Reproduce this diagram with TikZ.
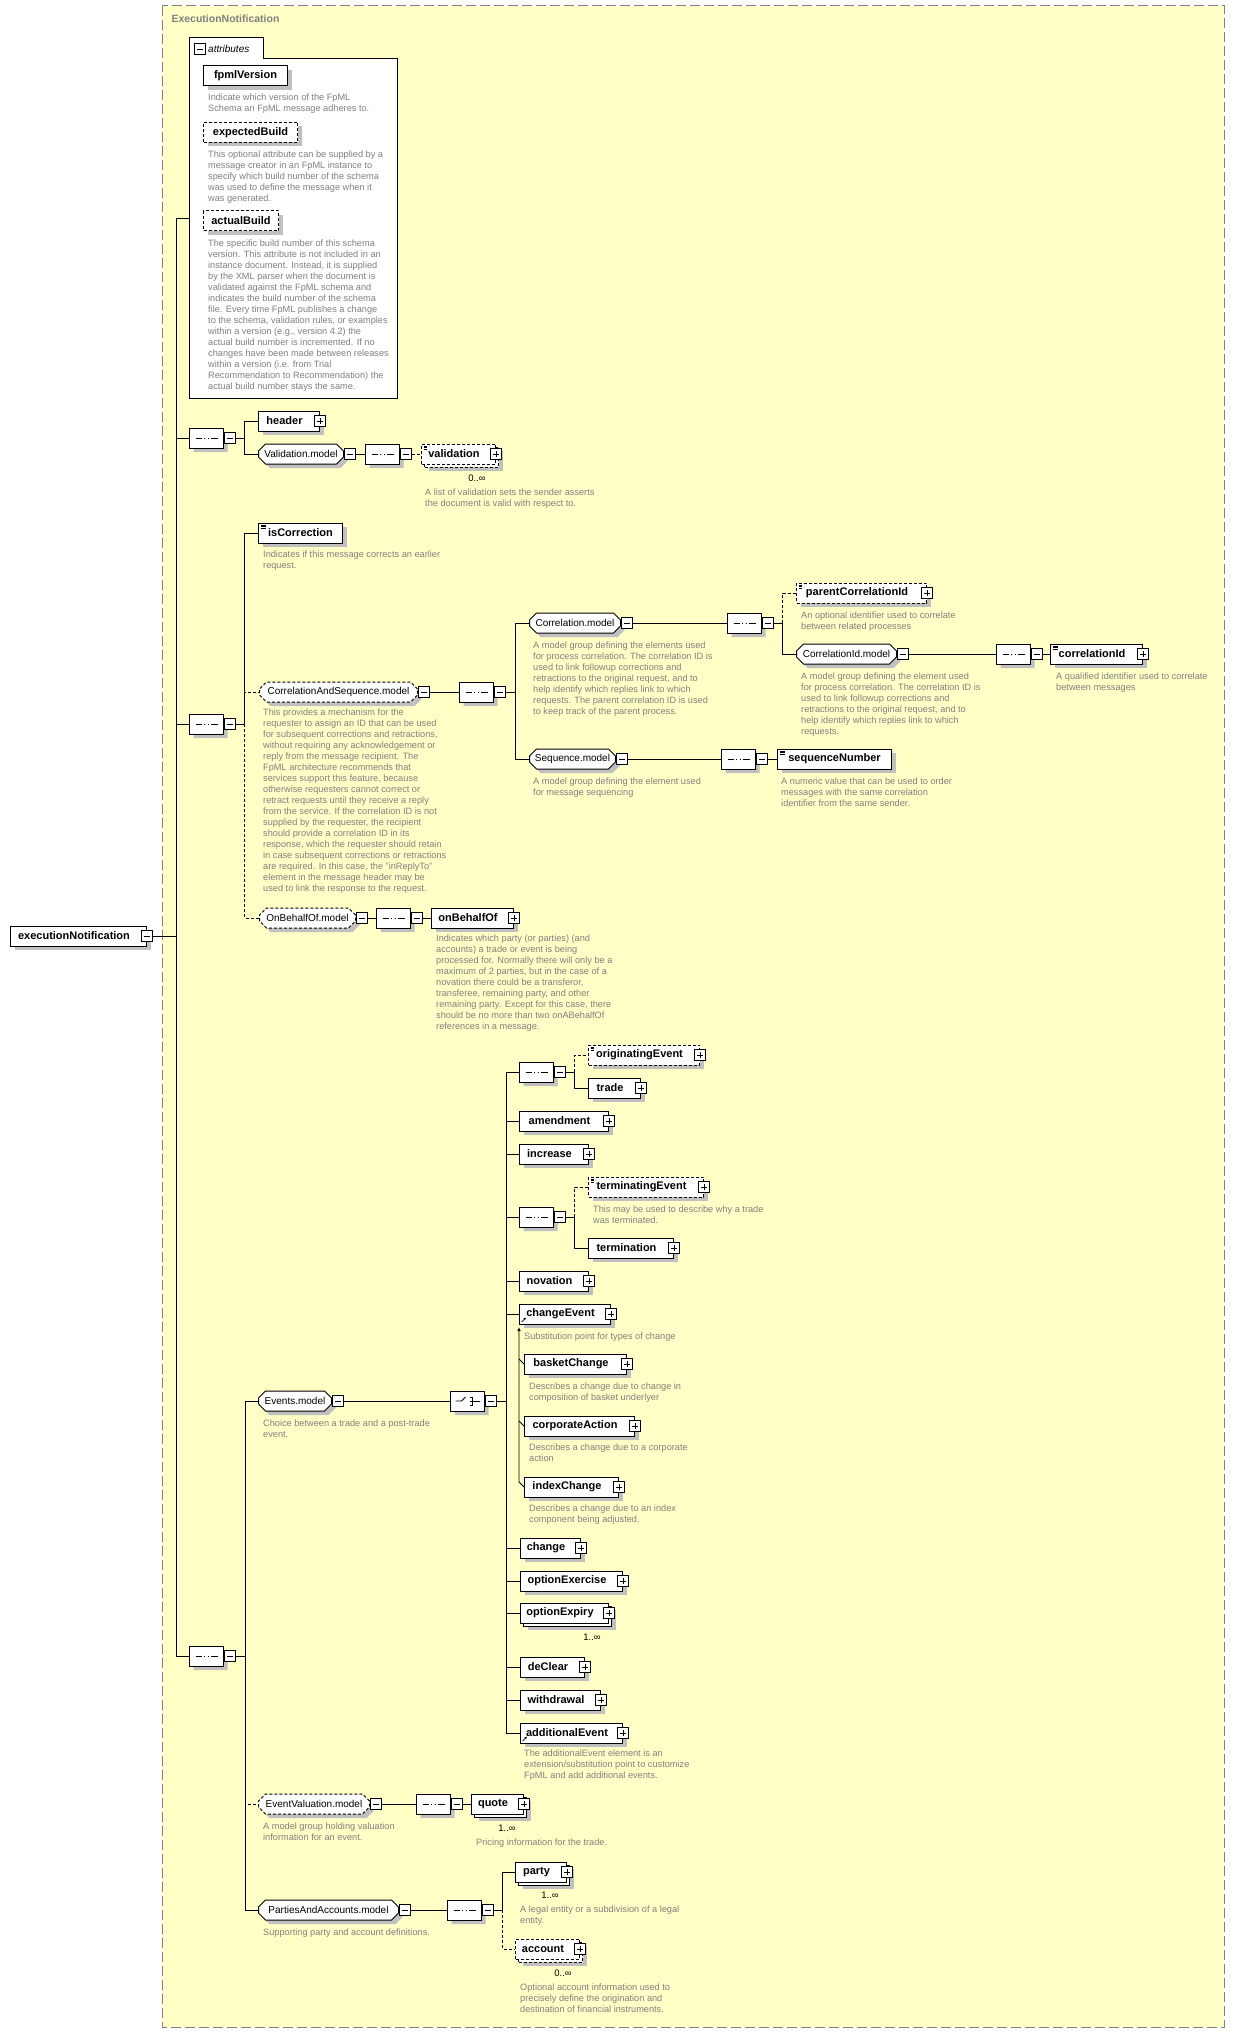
\documentclass[tikz,border=0pt]{standalone}
\usepackage{fontspec}
\setmainfont{Liberation Sans}
\usepackage{tikz}
\usetikzlibrary{arrows.meta,shapes.misc,shadows}

\definecolor{paper}{HTML}{FFFFC6}
\definecolor{notegray}{HTML}{808080}
\definecolor{shadowgray}{HTML}{C0C0C0}

\begin{document}
\begin{tikzpicture}[
    x=1pt, y=-1pt,
    >=Latex,
    every node/.style={font=\fontsize{10}{12}\selectfont},
    sh/.style={drop shadow={shadow xshift=4pt, shadow yshift=-4pt, fill=shadowgray, opacity=1}},
    outerframe/.style={draw=gray, fill=paper, line width=1pt, dash pattern=on 10pt off 4pt},
    elbase/.style={draw, line width=1pt, fill=white, anchor=west, minimum height=20pt, inner xsep=3pt, inner ysep=0pt, font=\fontsize{11}{13}\selectfont\bfseries},
    elem/.style={elbase, sh},
    optl/.style={dash pattern=on 3pt off 2pt},
    withx/.style={execute at end node={\hspace*{9pt}}},
    simple/.style={path picture={\foreach \d in {2pt,3.5pt,5pt} \draw[line width=0.6pt] ([shift={(2pt,-\d)}]path picture bounding box.north west) -- ++(5pt,0pt);}},
    substi/.style={path picture={\draw[-{Latex[length=2.5pt,width=2.5pt]}, line width=0.7pt] ([shift={(2pt,2pt)}]path picture bounding box.south west) -- ++(4.5pt,4.5pt);}},
    grp/.style={chamfered rectangle, chamfered rectangle xsep=3.5pt, chamfered rectangle ysep=3.5pt, draw, line width=1pt, fill=white, anchor=west, minimum height=20pt, inner xsep=1pt, inner ysep=0pt, sh, font=\fontsize{10}{12}\selectfont},
    seq/.style={chamfered rectangle, chamfered rectangle xsep=5pt, chamfered rectangle ysep=5pt, draw, line width=1pt, fill=white, anchor=west, minimum width=34pt, minimum height=20pt, inner sep=0pt, sh,
        path picture={
            \draw[line width=0.9pt] ([xshift=6pt]path picture bounding box.west) -- ([xshift=-6pt]path picture bounding box.east);
            \foreach \dx in {-3.3pt,0pt,3.3pt} \fill ([xshift=\dx]path picture bounding box.center) +(-1.2pt,-1.4pt) rectangle +(1.2pt,1.4pt);}},
    choice/.style={chamfered rectangle, chamfered rectangle xsep=5pt, chamfered rectangle ysep=5pt, draw, line width=1pt, fill=white, anchor=west, minimum width=34pt, minimum height=20pt, inner sep=0pt, sh,
        path picture={
            \draw[line width=0.8pt] ([xshift=-12pt]path picture bounding box.center) -- +(6pt,0pt) -- +(10pt,4pt);
            \foreach \dy in {-4pt,0pt,4pt} \fill ([yshift=\dy]path picture bounding box.center) +(-1pt,-1pt) rectangle +(1pt,1pt);
            \draw[line width=0.8pt] ([shift={(2pt,4pt)}]path picture bounding box.center) -- +(3pt,0pt) -- +(3pt,-8pt) -- +(0pt,-8pt);
            \draw[line width=0.8pt] ([xshift=2pt]path picture bounding box.center) -- +(10pt,0pt);}},
    colbox/.style={draw, line width=0.9pt, fill=white, minimum size=11pt, inner sep=0pt,
        path picture={\draw[line width=0.8pt] ([xshift=2.5pt]path picture bounding box.west) -- ([xshift=-2.5pt]path picture bounding box.east);}},
    expbox/.style={draw, line width=0.9pt, fill=white, minimum size=11pt, inner sep=0pt,
        path picture={\draw[line width=0.8pt] ([xshift=2.5pt]path picture bounding box.west) -- ([xshift=-2.5pt]path picture bounding box.east);
                      \draw[line width=0.8pt] ([yshift=-2.5pt]path picture bounding box.north) -- ([yshift=2.5pt]path picture bounding box.south);}},
    desc/.style={anchor=north west, inner sep=0pt, align=left, text=notegray, font=\fontsize{9.2}{11}\selectfont},
    occ/.style={inner sep=0pt, font=\fontsize{9.5}{11}\selectfont},
    conn/.style={line width=0.9pt}
]

\fill[white] (0,0) rectangle (1235,2033);
\useasboundingbox (0,0) rectangle (1235,2033);
\draw[outerframe] (162,6) rectangle (1224,2027);
\node[anchor=west, text=notegray, font=\fontsize{10.5}{12}\selectfont\bfseries] (ttl) at (168,19) {ExecutionNotification};

% attributes
\node[draw, line width=1pt, fill=white, anchor=north west, minimum width=208pt, minimum height=340pt] (attrs) at (189,58) {};
\node[draw, line width=1pt, fill=white, anchor=south west, minimum width=74pt, minimum height=20pt] (attrtab) at (189,58) {};
\draw[white, line width=1.5pt] ([xshift=1pt]attrtab.south west) -- ([xshift=-1pt]attrtab.south east);
\node[colbox] (attrtab-c) at (200,49) {};
\node[anchor=west, inner sep=0pt, font=\fontsize{10}{12}\selectfont\itshape] (attrlbl) at (208,48.5) {attributes};

\node[elem, minimum width=84pt] (fpmlv) at (203,76) {fpmlVersion};
\node[desc] (fpmlv-d) at (208,93.5) {Indicate which version of the FpML\\Schema an FpML message adheres to.};
\node[elem, optl, minimum width=94pt] (expb) at (203,132.5) {expectedBuild};
\node[desc] (expb-d) at (208,150.5) {This optional attribute can be supplied by a\\message creator in an FpML instance to\\specify which build number of the schema\\was used to define the message when it\\was generated.};
\node[elem, optl, minimum width=75pt] (actb) at (203,221) {actualBuild};
\node[desc] (actb-d) at (208,239.5) {The specific build number of this schema\\version. This attribute is not included in an\\instance document. Instead, it is supplied\\by the XML parser when the document is\\validated against the FpML schema and\\indicates the build number of the schema\\file. Every time FpML publishes a change\\to the schema, validation rules, or examples\\within a version (e.g., version 4.2) the\\actual build number is incremented. If no\\changes have been made between releases\\within a version (i.e. from Trial\\Recommendation to Recommendation) the\\actual build number stays the same.};

% root
\node[elem, minimum width=136pt, withx] (execn) at (10,936) {executionNotification};
\node[colbox] (execn-c) at (execn.east) {};

% header and validation
\node[seq] (s1) at (189,438) {};
\node[colbox, anchor=west] (s1-c) at (s1.east) {};
\node[elem, minimum width=61pt, withx] (header) at (258,421) {header};
\node[expbox] (header-x) at (header.east) {};
\node[grp, minimum width=85pt] (valm) at (258,454) {Validation.model};
\node[colbox, anchor=west] (valm-c) at (valm.east) {};
\node[seq] (s2) at (365,454) {};
\node[colbox, anchor=west] (s2-c) at (s2.east) {};
\node[elem, optl, minimum width=74pt] (valid-bk) at (424,457) {};
\node[elbase, optl, simple, minimum width=74pt, withx] (valid) at (421,454) {validation};
\node[expbox] (valid-x) at (valid.east) {};
\node[occ] (valid-o) at (477,478) {0..∞};
\node[desc] (valid-d) at (425,488.5) {A list of validation sets the sender asserts\\the document is valid with respect to.};

% correction, correlation and on-behalf-of
\node[seq] (s3) at (189,724) {};
\node[colbox, anchor=west] (s3-c) at (s3.east) {};
\node[elem, simple, minimum width=84pt] (iscorr) at (258,533) {isCorrection};
\node[desc] (iscorr-d) at (263,550.5) {Indicates if this message corrects an earlier\\request.};
\node[grp, optl, minimum width=158pt] (corrseq) at (259,692) {CorrelationAndSequence.model};
\node[colbox, anchor=west] (corrseq-c) at (corrseq.east) {};
\node[desc] (corrseq-d) at (263,708.5) {This provides a mechanism for the\\requester to assign an ID that can be used\\for subsequent corrections and retractions,\\without requiring any acknowledgement or\\reply from the message recipient. The\\FpML architecture recommends that\\services support this feature, because\\otherwise requesters cannot correct or\\retract requests until they receive a reply\\from the service. If the correlation ID is not\\supplied by the requester, the recipient\\should provide a correlation ID in its\\response, which the requester should retain\\in case subsequent corrections or retractions\\are required. In this case, the "inReplyTo"\\element in the message header may be\\used to link the response to the request.};
\node[seq] (s4) at (459,692) {};
\node[colbox, anchor=west] (s4-c) at (s4.east) {};
\node[grp, minimum width=91pt] (corrm) at (529,623) {Correlation.model};
\node[colbox, anchor=west] (corrm-c) at (corrm.east) {};
\node[desc] (corrm-d) at (533,641.5) {A model group defining the elements used\\for process correlation. The correlation ID is\\used to link followup corrections and\\retractions to the original request, and to\\help identify which replies link to which\\requests. The parent correlation ID is used\\to keep track of the parent process.};
\node[seq] (s5) at (727,623) {};
\node[colbox, anchor=west] (s5-c) at (s5.east) {};
\node[elem, optl, simple, minimum width=130pt, withx] (parcid) at (796,593) {parentCorrelationId};
\node[expbox] (parcid-x) at (parcid.east) {};
\node[desc] (parcid-d) at (801,611.5) {An optional identifier used to correlate\\between related processes};
\node[grp, minimum width=100pt] (corridm) at (796,654) {CorrelationId.model};
\node[colbox, anchor=west] (corridm-c) at (corridm.east) {};
\node[desc] (corridm-d) at (801,672.5) {A model group defining the element used\\for process correlation. The correlation ID is\\used to link followup corrections and\\retractions to the original request, and to\\help identify which replies link to which\\requests.};
\node[seq] (s6) at (996,654) {};
\node[colbox, anchor=west] (s6-c) at (s6.east) {};
\node[elem, simple, minimum width=92pt, withx] (corrid) at (1050,654) {correlationId};
\node[expbox] (corrid-x) at (corrid.east) {};
\node[desc] (corrid-d) at (1056,672.5) {A qualified identifier used to correlate\\between messages};
\node[grp, minimum width=86pt] (seqm) at (529,759) {Sequence.model};
\node[colbox, anchor=west] (seqm-c) at (seqm.east) {};
\node[desc] (seqm-d) at (533,777.5) {A model group defining the element used\\for message sequencing};
\node[seq] (s7) at (721,759) {};
\node[colbox, anchor=west] (s7-c) at (s7.east) {};
\node[elem, simple, minimum width=114pt] (seqnum) at (777,759) {sequenceNumber};
\node[desc] (seqnum-d) at (781,777.5) {A numeric value that can be used to order\\messages with the same correlation\\identifier from the same sender.};
\node[grp, optl, minimum width=96pt] (onbehm) at (259,918) {OnBehalfOf.model};
\node[colbox, anchor=west] (onbehm-c) at (onbehm.east) {};
\node[seq] (s8) at (376,918) {};
\node[colbox, anchor=west] (s8-c) at (s8.east) {};
\node[elem, minimum width=82pt, withx] (onbeh) at (431,918) {onBehalfOf};
\node[expbox] (onbeh-x) at (onbeh.east) {};
\node[desc] (onbeh-d) at (436,934.5) {Indicates which party (or parties) (and\\accounts) a trade or event is being\\processed for. Normally there will only be a\\maximum of 2 parties, but in the case of a\\novation there could be a transferor,\\transferee, remaining party, and other\\remaining party. Except for this case, there\\should be no more than two onABehalfOf\\references in a message.};

% events
\node[seq] (s11) at (189,1656) {};
\node[colbox, anchor=west] (s11-c) at (s11.east) {};
\node[grp, minimum width=73pt] (eventsm) at (258,1401) {Events.model};
\node[colbox, anchor=west] (eventsm-c) at (eventsm.east) {};
\node[desc] (eventsm-d) at (263,1419.5) {Choice between a trade and a post-trade\\event.};
\node[choice] (ch1) at (450,1401) {};
\node[colbox, anchor=west] (ch1-c) at (ch1.east) {};

\node[seq] (s9) at (519,1072) {};
\node[colbox, anchor=west] (s9-c) at (s9.east) {};
\node[elem, optl, simple, minimum width=111pt, withx] (origev) at (588,1055) {originatingEvent};
\node[expbox] (origev-x) at (origev.east) {};
\node[elem, minimum width=52pt, withx] (trade) at (588,1088) {trade};
\node[expbox] (trade-x) at (trade.east) {};
\node[elem, minimum width=89pt, withx] (amend) at (519,1121) {amendment};
\node[expbox] (amend-x) at (amend.east) {};
\node[elem, minimum width=69pt, withx] (incr) at (519,1154) {increase};
\node[expbox] (incr-x) at (incr.east) {};
\node[seq] (s10) at (519,1217) {};
\node[colbox, anchor=west] (s10-c) at (s10.east) {};
\node[elem, optl, simple, minimum width=115pt, withx] (termev) at (588,1187) {terminatingEvent};
\node[expbox] (termev-x) at (termev.east) {};
\node[desc] (termev-d) at (593,1205.5) {This may be used to describe why a trade\\was terminated.};
\node[elem, minimum width=85pt, withx] (termn) at (588,1248) {termination};
\node[expbox] (termn-x) at (termn.east) {};
\node[elem, minimum width=69pt, withx] (novat) at (519,1281) {novation};
\node[expbox] (novat-x) at (novat.east) {};
\node[elem, substi, minimum width=91pt, withx] (chev) at (519,1314) {changeEvent};
\node[expbox] (chev-x) at (chev.east) {};
\node[desc] (chev-d) at (524,1332.5) {Substitution point for types of change};
\node[elem, minimum width=102pt, withx] (bchg) at (524,1364) {basketChange};
\node[expbox] (bchg-x) at (bchg.east) {};
\node[desc] (bchg-d) at (529,1382.5) {Describes a change due to change in\\composition of basket underlyer};
\node[elem, minimum width=110pt, withx] (corpa) at (524,1426) {corporateAction};
\node[expbox] (corpa-x) at (corpa.east) {};
\node[desc] (corpa-d) at (529,1443.5) {Describes a change due to a corporate\\action};
\node[elem, minimum width=94pt, withx] (idxchg) at (524,1487) {indexChange};
\node[expbox] (idxchg-x) at (idxchg.east) {};
\node[desc] (idxchg-d) at (529,1504.5) {Describes a change due to an index\\component being adjusted.};
\node[elem, minimum width=60pt, withx] (chg) at (520,1548) {change};
\node[expbox] (chg-x) at (chg.east) {};
\node[elem, minimum width=102pt, withx] (optex) at (520,1581) {optionExercise};
\node[expbox] (optex-x) at (optex.east) {};
\node[elem, minimum width=88pt] (optexp-bk) at (523,1616) {};
\node[elbase, minimum width=88pt, withx] (optexp) at (520,1613) {optionExpiry};
\node[expbox] (optexp-x) at (optexp.east) {};
\node[occ] (optexp-o) at (592,1637) {1..∞};
\node[elem, minimum width=64pt, withx] (declr) at (520,1667) {deClear};
\node[expbox] (declr-x) at (declr.east) {};
\node[elem, minimum width=80pt, withx] (withd) at (520,1700) {withdrawal};
\node[expbox] (withd-x) at (withd.east) {};
\node[elem, substi, minimum width=102pt, withx] (addev) at (520,1733) {additionalEvent};
\node[expbox] (addev-x) at (addev.east) {};
\node[desc] (addev-d) at (524,1749.5) {The additionalEvent element is an\\extension/substitution point to customize\\FpML and add additional events.};

% valuation, parties and accounts
\node[grp, optl, minimum width=111pt] (evalm) at (258,1804) {EventValuation.model};
\node[colbox, anchor=west] (evalm-c) at (evalm.east) {};
\node[desc] (evalm-d) at (263,1822.5) {A model group holding valuation\\information for an event.};
\node[seq] (s12) at (416,1804) {};
\node[colbox, anchor=west] (s12-c) at (s12.east) {};
\node[elem, minimum width=52pt] (quote-bk) at (474,1807) {};
\node[elbase, minimum width=52pt, withx] (quote) at (471,1804) {quote};
\node[expbox] (quote-x) at (quote.east) {};
\node[occ] (quote-o) at (507,1828) {1..∞};
\node[desc] (quote-d) at (476,1838.5) {Pricing information for the trade.};
\node[grp, minimum width=140pt] (partacc) at (258,1910) {PartiesAndAccounts.model};
\node[colbox, anchor=west] (partacc-c) at (partacc.east) {};
\node[desc] (partacc-d) at (263,1928.5) {Supporting party and account definitions.};
\node[seq] (s13) at (447,1910) {};
\node[colbox, anchor=west] (s13-c) at (s13.east) {};
\node[elem, minimum width=51pt] (party-bk) at (518,1875) {};
\node[elbase, minimum width=51pt, withx] (party) at (515,1872) {party};
\node[expbox] (party-x) at (party.east) {};
\node[occ] (party-o) at (550,1895) {1..∞};
\node[desc] (party-d) at (520,1905.5) {A legal entity or a subdivision of a legal\\entity.};
\node[elem, optl, minimum width=64pt] (account-bk) at (518,1952) {};
\node[elbase, optl, minimum width=64pt, withx] (account) at (515,1949) {account};
\node[expbox] (account-x) at (account.east) {};
\node[occ] (account-o) at (563,1973) {0..∞};
\node[desc] (account-d) at (520,1983.5) {Optional account information used to\\precisely define the origination and\\destination of financial instruments.};

% connectors
\draw[conn] (execn-c.east) -- ++(23.5,0) |- ([yshift=-160pt]attrs.north west);
\foreach \n in {s1,s3,s11} \draw[conn] (execn-c.east) -- ++(23.5,0) |- (\n.west);

\draw[conn] (s1-c.east) -- ++(9,0) |- (header.west);
\draw[conn] (s1-c.east) -- ++(9,0) |- (valm.west);
\draw[conn] (valm-c.east) -- (s2.west);
\draw[conn, optl] (s2-c.east) -- (valid.west);

\draw[conn] (s3-c.east) -- ++(9,0) |- (iscorr.west);
\draw[conn, optl] ([xshift=9pt]s3-c.east) |- (corrseq.west);
\draw[conn, optl] ([xshift=9pt]s3-c.east) |- (onbehm.west);
\draw[conn] (corrseq-c.east) -- (s4.west);
\draw[conn] (s4-c.east) -- ++(9.5,0) |- (corrm.west);
\draw[conn] (s4-c.east) -- ++(9.5,0) |- (seqm.west);
\draw[conn] (corrm-c.east) -- (s5.west);
\draw[conn, optl] ([xshift=9pt]s5-c.east) |- (parcid.west);
\draw[conn] (s5-c.east) -- ++(9,0) |- (corridm.west);
\draw[conn] (corridm-c.east) -- (s6.west);
\draw[conn] (s6-c.east) -- (corrid.west);
\draw[conn] (seqm-c.east) -- (s7.west);
\draw[conn] (s7-c.east) -- (seqnum.west);
\draw[conn] (onbehm-c.east) -- (s8.west);
\draw[conn] (s8-c.east) -- (onbeh.west);

\draw[conn] (s11-c.east) -- ++(10,0) |- (eventsm.west);
\draw[conn, optl] ([xshift=10pt]s11-c.east) |- (evalm.west);
\draw[conn] (s11-c.east) -- ++(10,0) |- (partacc.west);
\draw[conn] (eventsm-c.east) -- (ch1.west);
\foreach \n in {s9,amend,incr,s10,novat,chev,chg,optex,optexp,declr,withd,addev}
    \draw[conn] (ch1-c.east) -- ++(10,0) |- (\n.west);
\draw[conn, optl] ([xshift=9pt]s9-c.east) |- (origev.west);
\draw[conn] (s9-c.east) -- ++(9,0) |- (trade.west);
\draw[conn, optl] ([xshift=9pt]s10-c.east) |- (termev.west);
\draw[conn] (s10-c.east) -- ++(9,0) |- (termn.west);
\draw[conn, -{Latex[length=4pt,width=3.5pt]}] (idxchg.west) -- ++(-5,-5) -- ++(0,-155);
\draw[conn] (bchg.west) -- ++(-5,-5);
\draw[conn] (corpa.west) -- ++(-5,-5);

\draw[conn] (evalm-c.east) -- (s12.west);
\draw[conn] (s12-c.east) -- (quote.west);
\draw[conn] (partacc-c.east) -- (s13.west);
\draw[conn] (s13-c.east) -- ++(9,0) |- (party.west);
\draw[conn, optl] ([xshift=9pt]s13-c.east) |- (account.west);

\end{tikzpicture}
\end{document}
